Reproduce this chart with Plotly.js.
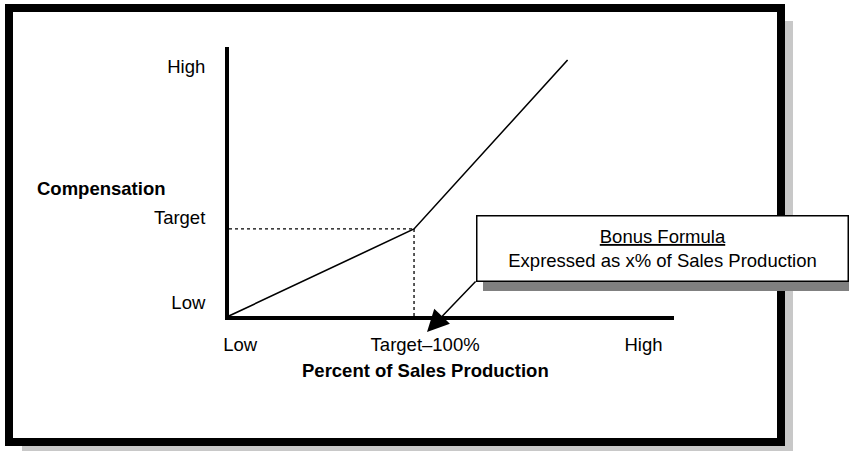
<!DOCTYPE html>
<html>
<head>
<meta charset="utf-8">
<script src="https://cdn.plot.ly/plotly-3.0.1.min.js"></script>
<style>html,body{margin:0;padding:0;background:#fff;}#chart{width:849px;height:451px;}</style>
</head>
<body>
<div id="chart"></div>
<script>
// Data
const salesProduction = [0, 100, 183];          // percent of sales production
const compensation    = [0, 1, 2.94];            // compensation (Target = 1)
const targetX = 100;
const targetY = 1;
const xTickVals  = [6, 106, 224];
const xTickText  = ['Low', 'Target\u2013100%', 'High'];
const yTickVals  = [0.15, 1.13, 2.87];
const yTickText  = ['Low', 'Target', 'High'];
const xTitle = 'Percent of Sales Production';
const yTitle = 'Compensation';
const boxTitle = 'Bonus Formula';
const boxText  = 'Expressed as x% of Sales Production';

const W = 849, H = 451;
const px = v => v / W;
const py = v => 1 - v / H;
const FONT = 'Liberation Sans, Arial, Helvetica, sans-serif';
const FS = 18.5;

const traces = [
  { x: [0, targetX], y: [targetY, targetY], mode: 'lines', line: {color: '#000', width: 1.3, dash: 'dot'}, hoverinfo: 'skip' },
  { x: [targetX, targetX], y: [0, targetY], mode: 'lines', line: {color: '#000', width: 1.3, dash: 'dot'}, hoverinfo: 'skip' },
  { x: salesProduction, y: compensation, mode: 'lines', line: {color: '#000', width: 1.6}, hoverinfo: 'skip' }
];

const layout = {
  width: W, height: H,
  margin: {l: 0, r: 0, t: 0, b: 0},
  paper_bgcolor: '#fff',
  plot_bgcolor: 'rgba(0,0,0,0)',
  showlegend: false,
  font: {family: FONT, size: FS, color: '#000'},
  xaxis: {
    domain: [px(229), px(674)],
    range: [0, 240.5],
    showgrid: false, zeroline: false,
    showline: true, linecolor: '#000', linewidth: 4,
    ticks: '', tickvals: xTickVals, ticktext: xTickText,
    ticklabelstandoff: 9,
    tickfont: {family: FONT, size: FS, color: '#000'},
    fixedrange: true
  },
  yaxis: {
    domain: [py(316), py(47)],
    range: [0, 3.09],
    showgrid: false, zeroline: false,
    showline: true, linecolor: '#000', linewidth: 4,
    ticks: '', tickvals: yTickVals, ticktext: yTickText,
    ticklabelstandoff: 16,
    tickfont: {family: FONT, size: FS, color: '#000'},
    fixedrange: true
  },
  shapes: [
    {type: 'rect', xref: 'paper', yref: 'paper', layer: 'below',
     x0: px(22), x1: px(793), y0: py(460), y1: py(21),
     fillcolor: '#c8c8c8', line: {width: 0}},
    {type: 'rect', xref: 'paper', yref: 'paper', layer: 'below',
     x0: px(9), x1: px(781), y0: py(442), y1: py(8),
     fillcolor: '#fff', line: {color: '#000', width: 8}},
    {type: 'rect', xref: 'paper', yref: 'paper', layer: 'below',
     x0: px(483), x1: px(860), y0: py(291), y1: py(222),
     fillcolor: '#808080', line: {width: 0}}
  ],
  annotations: [
    {xref: 'paper', yref: 'paper', x: px(101), y: py(188), xanchor: 'center', yanchor: 'middle',
     text: '<b>' + yTitle + '</b>', showarrow: false, font: {family: FONT, size: FS, color: '#000'}},
    {xref: 'paper', yref: 'paper', x: px(425), y: py(370), xanchor: 'center', yanchor: 'middle',
     text: '<b>' + xTitle + '</b>', showarrow: false, font: {family: FONT, size: FS, color: '#000'}},
    {xref: 'paper', yref: 'paper', x: px(427), y: py(332), text: '', showarrow: true,
     ax: 50, ay: -52, axref: 'pixel', ayref: 'pixel',
     arrowhead: 2, arrowsize: 2.9, arrowwidth: 1.5, arrowcolor: '#000', standoff: 0, startstandoff: 0},
    {xref: 'paper', yref: 'paper', x: px(662), y: py(248), xanchor: 'center', yanchor: 'middle',
     text: '<u>' + boxTitle + '</u><br>' + boxText, showarrow: false, align: 'center',
     width: 370, height: 64, bgcolor: '#fff', bordercolor: '#000', borderwidth: 1.5, borderpad: 0,
     font: {family: FONT, size: FS, color: '#000'}}
  ]
};

Plotly.newPlot('chart', traces, layout, {displayModeBar: false, staticPlot: true});
</script>
</body>
</html>
